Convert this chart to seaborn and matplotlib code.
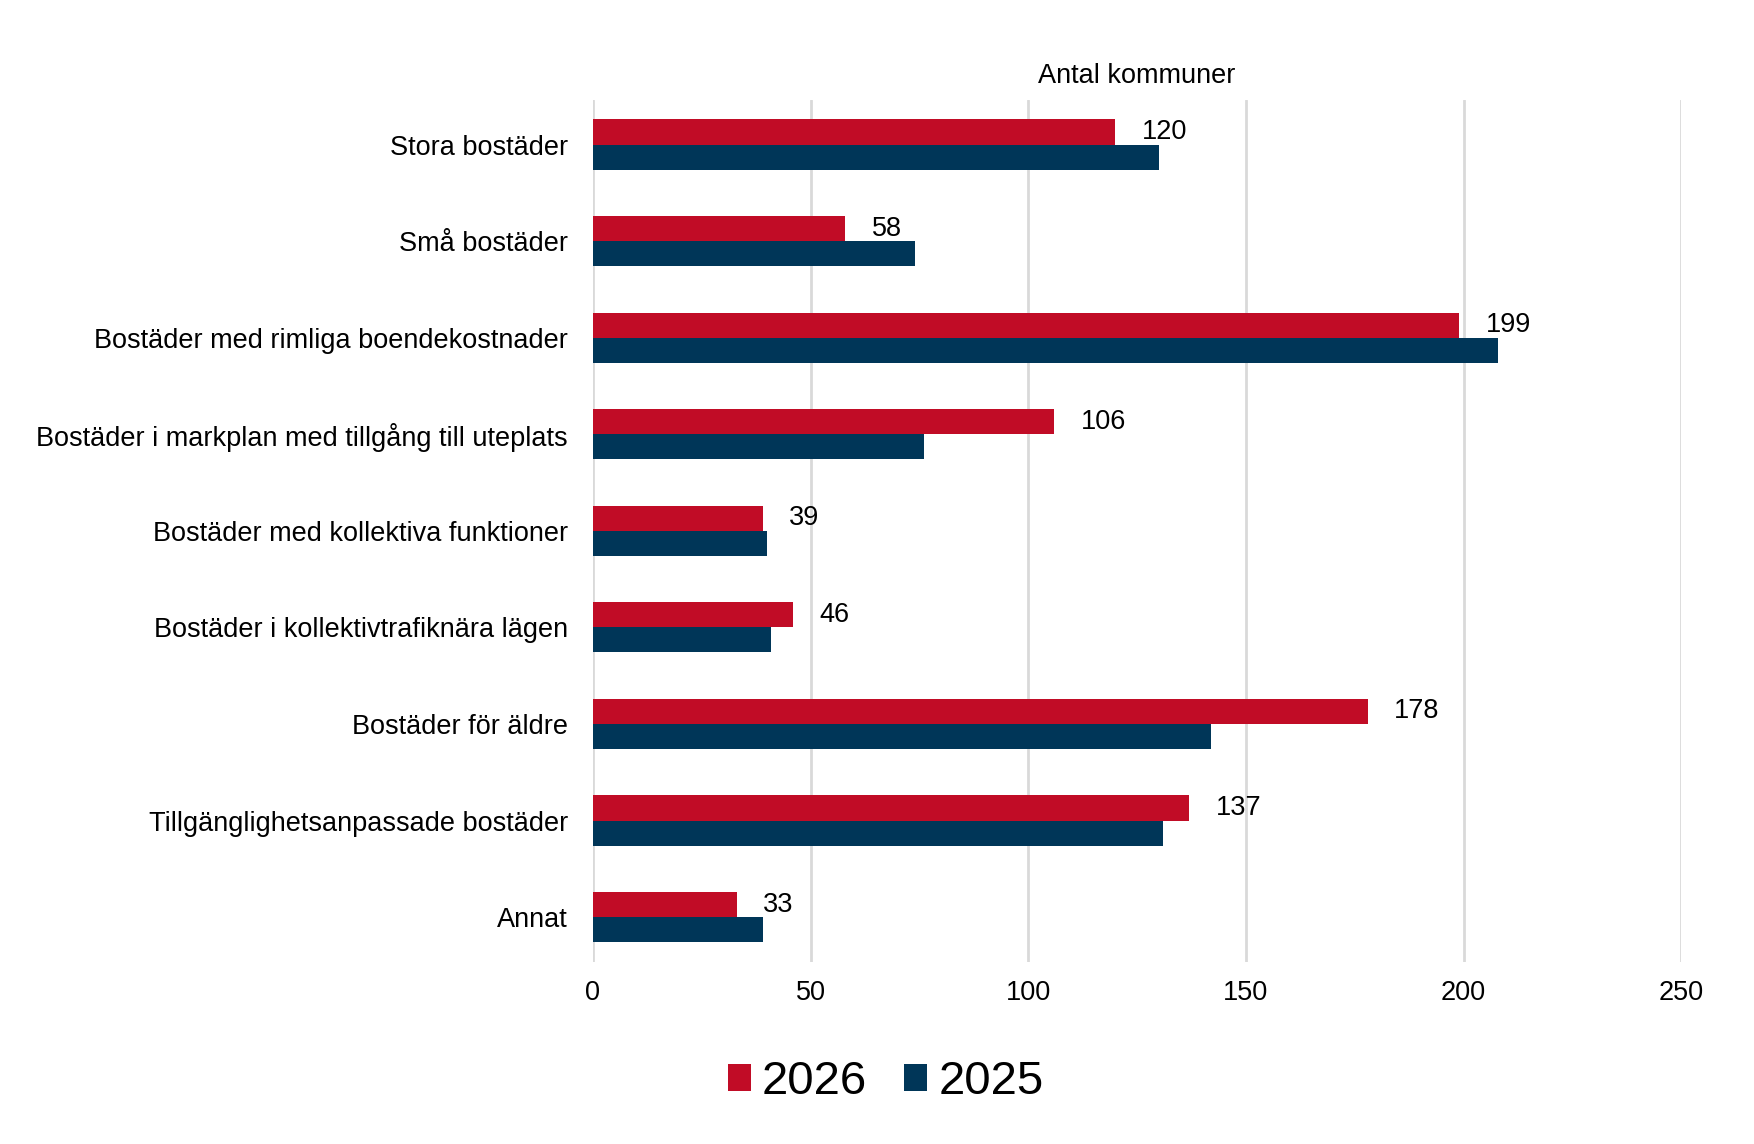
import matplotlib
matplotlib.use("Agg")
import matplotlib.pyplot as plt
import seaborn as sns
import pandas as pd
from matplotlib.patches import Patch

categories = [
    "Stora bostäder",
    "Små bostäder",
    "Bostäder med rimliga boendekostnader",
    "Bostäder i markplan med tillgång till uteplats",
    "Bostäder med kollektiva funktioner",
    "Bostäder i kollektivtrafiknära lägen",
    "Bostäder för äldre",
    "Tillgänglighetsanpassade bostäder",
    "Annat",
]
values_2026 = [120, 58, 199, 106, 39, 46, 178, 137, 33]
values_2025 = [130, 74, 208, 76, 40, 41, 142, 131, 39]
series = ["2026", "2025"]
colors = {"2026": "#C10C26", "2025": "#003658"}
xticks = [0, 50, 100, 150, 200, 250]

df = pd.DataFrame({
    "Kategori": categories * 2,
    "År": ["2026"] * len(categories) + ["2025"] * len(categories),
    "Antal": values_2026 + values_2025,
})

sns.set_theme(style="white")
plt.rcParams["font.family"] = ["Liberation Sans", "DejaVu Sans"]
plt.rcParams["text.color"] = "black"
plt.rcParams["xtick.color"] = "black"
plt.rcParams["ytick.color"] = "black"

fig = plt.figure(figsize=(17.54, 11.44), dpi=100)
ax = fig.add_axes([0.338, 0.159, 0.6205, 0.754])

sns.barplot(data=df, y="Kategori", x="Antal", hue="År", hue_order=series,
            order=categories, palette=colors, width=0.52, orient="h",
            ax=ax, legend=False, saturation=1, linewidth=0)

ax.set_xlim(0, 250)
ax.set_ylim(len(categories) - 1 + 0.466, -0.466)
ax.set_xticks(xticks)
ax.set_xticklabels([str(t) for t in xticks], fontsize=19.5, color="black")
ax.tick_params(axis="y", labelsize=19.5, length=0, pad=18, labelcolor="black")
ax.tick_params(axis="x", length=0, pad=13, labelcolor="black")
ax.set_xlabel("")
ax.set_ylabel("")
ax.grid(axis="x", color="#D9D9D9", linewidth=2.0)
ax.grid(axis="y", visible=False)
ax.set_axisbelow(True)
for s in ax.spines.values():
    s.set_visible(False)

# data labels for 2026 series
red_bars = ax.containers[0]
for bar, v in zip(red_bars, values_2026):
    y = bar.get_y() + bar.get_height() / 2
    ax.annotate(str(v), xy=(bar.get_width(), y), xytext=(19, 0),
                textcoords="offset points", ha="left", va="center",
                fontsize=19.5, color="black")

ax.set_title("Antal kommuner", fontsize=19.5, pad=12, color="black")

handles = [Patch(facecolor=colors[s], edgecolor="none", label=s) for s in series]
fig.legend(handles=handles, loc="center", bbox_to_anchor=(0.505, 0.054),
           ncol=2, frameon=False, fontsize=34, handlelength=0.48,
           handleheight=0.48, handletextpad=0.24, columnspacing=0.79,
           labelcolor="black")

fig.savefig("out.png", dpi=100, facecolor="white")
